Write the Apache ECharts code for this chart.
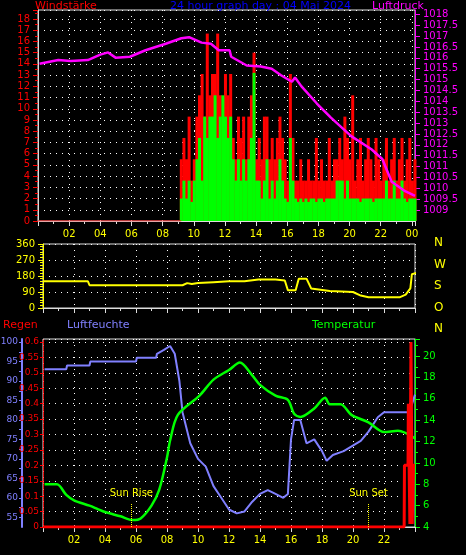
<!DOCTYPE html>
<html><head><meta charset="utf-8">
<script src="https://cdn.jsdelivr.net/npm/echarts@6/dist/echarts.min.js"></script>
<style>html,body{margin:0;background:#000}#c{width:466px;height:555px}</style>
</head><body><div id="c"></div>
<script>
// ---- data ----
const windStart = 9.2, windStep = 1/6;
const windAvg = [2,3.6,2,3.6,1.7,3.6, 5.5,7.4,3.6,9.3,7.4,9.3, 9.3,11.2,7.4,9.3,11.2,9.3, 7.4,9.3,5.5,3.6,5.5,3.6,
 5.5,3.6,5.5,7.4,13.2,3.6, 3.6,2,3.6,5.5,2,3.6, 2,3.6,5.5,3.6,2,1.7, 7.4,3.6,2,1.7,2,1.7, 2,1.7,2,2,1.7,2,
 2,1.7,2,2,2,2, 3.6,3.6,3.6,2,3.6,2, 2,2,2,1.7,2,2, 2,2,1.7,2,2,2, 2,3.6,2,2,3.6,2, 2,3.6,2,1.7,2,2,2];
const windGust = [5.5,7.4,5.5,9.3,3.6,5.5, 9.3,11.2,13.1,9.3,16.7,11.2, 13.1,13.1,16.7,11.2,9.3,13.1, 11.2,13.1,7.4,5.5,9.3,7.4,
 9.3,5.5,9.3,11.2,15,5.5, 7.4,5.5,9.3,9.3,5.5,7.4, 5.5,7.4,9.3,7.4,5.5,3.6, 13.1,7.4,3.6,3.6,5.5,3.6, 3.6,5.5,3.6,3.6,7.4,3.6,
 5.5,3.6,3.6,7.4,3.6,5.5, 5.5,7.4,5.5,9.3,7.4,5.5, 11.2,3.6,5.5,7.4,3.6,5.5, 7.4,5.5,3.6,7.4,5.5,3.6, 5.5,7.4,3.6,5.5,7.4,3.6, 5.5,7.4,3.6,5.5,7.4,3.6,5.5];
const pressure = [[0.1,1015.73],[1.3,1015.9],[2.1,1015.85],[3.2,1015.9],[4.0,1016.15],[4.5,1016.25],[5.0,1016.0],[5.9,1016.05],
 [6.9,1016.35],[8.2,1016.65],[9.2,1016.9],[9.7,1016.95],[10.5,1016.7],[11.1,1016.65],[11.6,1016.35],[12.3,1016.35],[12.4,1016.05],
 [13.4,1015.65],[14.3,1015.6],[15.0,1015.5],[15.6,1015.2],[16.3,1014.9],[16.5,1015.1],[16.9,1014.7],[17.9,1013.9],[18.8,1013.25],
 [20.1,1012.4],[21.4,1011.8],[22.1,1011.35],[22.7,1010.3],[23.5,1009.9],[24.2,1009.65]];
const direction = [[0,150],[2.9,150],[3.0,128],[9.0,128],[9.3,140],[9.6,135],[10,140],[11,145],[12,150],[13,150],[13.9,160],[15,160],
 [15.6,155],[15.8,100],[16.3,100],[16.5,165],[17,165],[17.3,110],[18.5,95],[20,90],[20.5,70],[21,60],[23,60],[23.4,75],[23.7,110],[23.8,190],[24.2,200]];
const humidity = [[0.1,93],[1.5,93],[1.55,94],[3.0,94],[3.05,95],[6.0,95],[6.05,96],[7.3,96],[7.35,97],[7.8,98],[8.2,99],[8.5,97],[8.8,90],
 [9.0,82],[9.5,74],[10,70],[10.5,68],[11,63],[11.5,60],[12,57],[12.5,56],[13,56.5],[13.5,59],[14,61],[14.5,62],[15,61],[15.5,60],[15.8,61],
 [16.0,75],[16.2,80],[16.6,80],[17,74],[17.5,75],[18,72],[18.3,69.5],[18.7,71],[19.4,72],[20.5,74.6],[21,77],[21.6,80.7],[22,82],[23.6,82],[23.8,84],[24,86.5]];
const temperature = [[0.1,8.0],[0.9,8.0],[1.5,7.0],[2,6.5],[3,6.0],[3.5,5.7],[4,5.4],[5,5.0],[5.8,4.65],[6.3,4.8],[7,6.0],[7.5,7.5],[8,10.5],
 [8.2,12.1],[8.7,14.5],[10.1,16.3],[11,17.8],[12,18.7],[12.7,19.4],[13.5,18.2],[14,17.3],[15,16.3],[15.8,15.9],[16.2,14.6],[16.6,14.3],
 [17.5,15.1],[18.2,16.1],[18.5,15.5],[19.2,15.5],[19.9,14.5],[21,13.8],[22,12.9],[22.9,13],[24,12.3]];
const rain = [[0,0],[23.3,0],[23.32,0.2],[23.55,0.2],[23.57,0.4],[23.65,0.4],[23.67,0.01],[23.72,0.01],[23.74,0.6],[23.8,0.6],[23.82,0.01],[23.88,0.01],[23.9,0.2],[24,0.2]];
const sunRise = 5.7, sunSet = 21.0;
const dirLetters = ['N','W','S','O','N'];

// ---- chart ----
const F = 'DejaVu Sans';
const windX = windAvg.map((_, i) => +(windStart + i*windStep).toFixed(3));
const dotted = {show:true, lineStyle:{color:'#fff', type:[1,5], width:1}};
function xAxis(gi, maxV, showLabels){
  return {type:'value', gridIndex:gi, min:0, max:maxV, interval:2,
    axisLine:{lineStyle:{color:'#ddd'}}, axisTick:{lineStyle:{color:'#ddd'}},
    minorTick:{show:true, splitNumber:2, lineStyle:{color:'#ddd'}},
    splitLine:dotted,
    axisLabel:{show:showLabels, color:'#ff0', fontFamily:F, fontSize:10, showMaxLabel:false,
      formatter:v=> v===0 ? '' : String(v%24).padStart(2,'0')}};
}
const G = {show:true, borderColor:'#ddd', containLabel:false, outerBoundsMode:'none'};
const chart = echarts.init(document.getElementById('c'));
chart.setOption({
  backgroundColor:'#000', animation:false,
  grid:[Object.assign({left:38,right:51,top:10,height:211}, G),
        Object.assign({left:43,right:51,top:244,height:64}, G),
        Object.assign({left:43,right:51,top:339,height:188}, G)],
  xAxis:[xAxis(0,24.2,true), xAxis(1,24.0,false), xAxis(2,24.0,true)],
  yAxis:[
    {type:'value', gridIndex:0, min:0, max:18.8, interval:1, axisLine:{show:true,lineStyle:{color:'#ddd'}},
     axisTick:{show:true,lineStyle:{color:'#f00'}}, minorTick:{show:true,splitNumber:2,lineStyle:{color:'#f00'}},
     splitLine:dotted, axisLabel:{color:'#f00',fontFamily:F,fontSize:10,showMaxLabel:false}},
    {type:'value', gridIndex:0, position:'right', min:1008.5, max:1018.2, interval:0.5,
     axisLine:{show:true,lineStyle:{color:'#f0f'}}, axisTick:{show:true,lineStyle:{color:'#f0f'}},
     splitLine:{show:false}, axisLabel:{color:'#f0f',fontFamily:F,fontSize:10,showMinLabel:false,showMaxLabel:false,
       formatter:v=>String(+v.toFixed(1))}},
    {type:'value', gridIndex:1, min:0, max:360, interval:90, axisLine:{show:true,lineStyle:{color:'#ff0'}},
     axisTick:{show:true,lineStyle:{color:'#ff0'}}, minorTick:{show:true,splitNumber:6,lineStyle:{color:'#ff0'}},
     splitLine:dotted, axisLabel:{color:'#ff0',fontFamily:F,fontSize:10}},
    {type:'value', gridIndex:2, min:0, max:0.61, interval:0.05, axisLine:{show:true,lineStyle:{color:'#f00',type:'dotted'}},
     axisTick:{show:true,length:3,lineStyle:{color:'#f00'}}, splitLine:dotted,
     axisLabel:{color:'#f00',fontFamily:F,fontSize:9,margin:4,showMaxLabel:false,formatter:v=>String(+v.toFixed(2))}},
    {type:'value', gridIndex:2, position:'left', min:52.5, max:100.8, interval:2.5, offset:21, axisLine:{show:true,lineStyle:{color:'#8080ff',width:2}},
     axisTick:{show:true,length:3,lineStyle:{color:'#8080ff'}}, splitLine:{show:false},
     axisLabel:{color:'#8080ff',fontFamily:F,fontSize:9,margin:4,showMinLabel:false,showMaxLabel:false,formatter:v=> (v%5===0)?String(v):''}},
    {type:'value', gridIndex:2, position:'right', min:4, max:21.6, interval:2, axisLine:{show:true,lineStyle:{color:'#0f0'}},
     axisTick:{show:true,lineStyle:{color:'#0f0'}}, minorTick:{show:true,splitNumber:2,lineStyle:{color:'#0f0'}},
     splitLine:{show:false}, axisLabel:{color:'#0f0',fontFamily:F,fontSize:10,showMaxLabel:false}}
  ],
  series:[
    {type:'line', xAxisIndex:0, yAxisIndex:0, data:[[0,0],[windStart,0]], symbol:'none', lineStyle:{color:'#f00',width:1}},
    {type:'bar', xAxisIndex:0, yAxisIndex:0, data:windX.map((x,i)=>[x,windGust[i]]), barWidth:3, barGap:'-100%', itemStyle:{color:'#f00'}},
    {type:'bar', xAxisIndex:0, yAxisIndex:0, data:windX.map((x,i)=>[x,windAvg[i]]), barWidth:3, barGap:'-100%', itemStyle:{color:'#0f0'}},
    {type:'line', xAxisIndex:0, yAxisIndex:1, data:pressure, symbol:'none', lineStyle:{color:'#f0f',width:2.5}},
    {type:'line', xAxisIndex:1, yAxisIndex:2, data:direction, symbol:'none', lineStyle:{color:'#ff0',width:2}},
    {type:'line', xAxisIndex:2, yAxisIndex:4, data:humidity, symbol:'none', lineStyle:{color:'#8080ff',width:2}},
    {type:'line', xAxisIndex:2, yAxisIndex:5, data:temperature, symbol:'none', smooth:0.3, lineStyle:{color:'#0f0',width:2.5},
     markLine:{silent:true, symbol:'none', label:{show:true, position:'end', color:'#ff0', fontFamily:F, fontSize:10,
       formatter:p=>p.name}, lineStyle:{color:'#ff0', type:'dotted', width:1},
       data:[[{name:'Sun Rise',coord:[sunRise,4]},{coord:[sunRise,6.2]}],[{name:'Sun Set',coord:[sunSet,4]},{coord:[sunSet,6.2]}]]}},
    {type:'line', xAxisIndex:2, yAxisIndex:3, data:rain, symbol:'none', lineStyle:{color:'#f00',width:3}}
  ],
  graphic:[
    {type:'text', left:35, top:1, style:{text:'Windstärke', fill:'#f00', font:'11px '+F}},
    {type:'text', left:170, top:1, style:{text:'24 hour graph day : 04 Mai 2024', fill:'#00f', font:'11px '+F}},
    {type:'text', left:372, top:1, style:{text:'Luftdruck', fill:'#f0f', font:'11px '+F}},
    {type:'text', left:3, top:320, style:{text:'Regen', fill:'#f00', font:'11px '+F}},
    {type:'text', left:67, top:320, style:{text:'Luftfeuchte', fill:'#8080ff', font:'11px '+F}},
    {type:'text', left:312, top:320, style:{text:'Temperatur', fill:'#0f0', font:'11px '+F}},
    ...dirLetters.map((t,i)=>({type:'text', left:434, top:237+i*21.5, style:{text:t, fill:'#ff0', font:'12px '+F}}))
  ]
});
</script></body></html>
